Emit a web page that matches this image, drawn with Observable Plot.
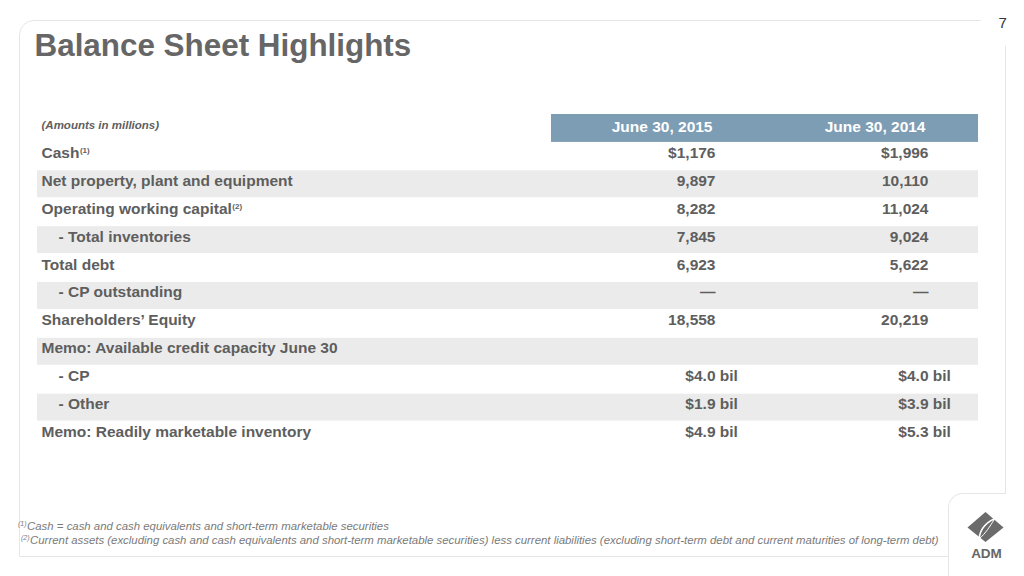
<!DOCTYPE html>
<html>
<head>
<meta charset="utf-8">
<script src="https://cdn.jsdelivr.net/npm/d3@7"></script>
<script src="https://cdn.jsdelivr.net/npm/@observablehq/plot@0.6"></script>
<style>
  html, body { margin: 0; padding: 0; background: #fff; }
  #page { position: relative; width: 1024px; height: 576px; overflow: hidden;
          font-family: "Liberation Sans", Arial, Helvetica, sans-serif; }
  .frame { position: absolute; left: 19px; top: 20px; width: 984.5px; height: 535px;
           border: 1.5px solid #e6e6e6; border-top-left-radius: 15px; }
  .cornerCover { position: absolute; left: 981px; top: 10px; width: 40px; height: 36px; background: #fff; }
  .notch { position: absolute; left: 948px; top: 493px; width: 57px; height: 100px; background: #fff;
           border-top: 1.5px solid #e6e6e6; border-left: 1.5px solid #e6e6e6; border-top-left-radius: 15px; }
  .title { position: absolute; left: 34.5px; top: 29.8px; font-size: 31.4px; line-height: 31px;
           font-weight: bold; color: #666; white-space: nowrap; }
  .pagenum { position: absolute; left: 998.5px; top: 14.6px; font-size: 15px; line-height: 15px; color: #333; }
  .fn { position: absolute; font-size: 11.4px; line-height: 14px; font-style: italic; color: #7a7a7a; white-space: nowrap; }
  .fn sup { font-size: 7px; vertical-align: 0; position: relative; top: -4px; margin-right: 0.5px; }
  #chart { position: absolute; left: 0; top: 0; }
  #logo { position: absolute; left: 960px; top: 505px; }
</style>
</head>
<body>
<div id="page">
  <div class="frame"></div>
  <div class="cornerCover"></div>
  <div class="notch"></div>
  <div class="pagenum" id="pagenum"></div>
  <div class="title" id="title"></div>
  <div class="fn" id="fn1" style="left:18px; top:519px;"></div>
  <div class="fn" id="fn2" style="left:21px; top:533px;"></div>
  <svg id="logo" width="50" height="60" viewBox="960 505 50 60">
    <polygon points="985.5,512 1003.5,527.5 985.5,542 967.5,527.5" fill="#6b6b6b"/>
    <path d="M979,539 C980,529 987,521 999,517" fill="none" stroke="#fff" stroke-width="1.6"/>
    <path d="M979,539 C986,533 990,526 994,520" fill="none" stroke="#fff" stroke-width="1"/>
    <text x="986.5" y="558" text-anchor="middle" font-family="Liberation Sans, Arial, sans-serif"
          font-weight="bold" font-size="13.5" fill="#666">ADM</text>
  </svg>
  <div id="chart"></div>
</div>
<script>
// ---------- data ----------
const pageNumber = "7";
const titleText = "Balance Sheet Highlights";
const headerNote = "(Amounts in millions)";
const columnHeaders = ["June 30, 2015", "June 30, 2014"];
const rowLabels = [
  "Cash",
  "Net property, plant and equipment",
  "Operating working capital",
  "- Total inventories",
  "Total debt",
  "- CP outstanding",
  "Shareholders’ Equity",
  "Memo: Available credit capacity June 30",
  "- CP",
  "- Other",
  "Memo: Readily marketable inventory"
];
const rowNotes = ["(1)", "", "(2)", "", "", "", "", "", "", "", ""];
const values2015 = [1176, 9897, 8282, 7845, 6923, null, 18558, null, 4.0, 1.9, 4.9];
const values2014 = [1996, 10110, 11024, 9024, 5622, null, 20219, null, 4.0, 3.9, 5.3];
const rowFormats = ["usd", "num", "num", "num", "num", "num", "num", "blank", "bil", "bil", "bil"];
const unitSuffix = "bil";
const footnoteMarks = ["(1)", "(2)"];
const footnotes = [
  "Cash = cash and cash equivalents and short-term marketable securities",
  "Current assets (excluding cash and cash equivalents and short-term marketable securities) less current liabilities (excluding short-term debt and current maturities of long-term debt)"
];

// ---------- html text ----------
document.getElementById("pagenum").textContent = pageNumber;
document.getElementById("title").textContent = titleText;
["fn1", "fn2"].forEach((id, i) => {
  const el = document.getElementById(id);
  const s = document.createElement("sup");
  s.textContent = footnoteMarks[i];
  el.appendChild(s);
  el.appendChild(document.createTextNode(footnotes[i]));
});

// ---------- table rows ----------
const rows = rowLabels.map((label, i) => ({
  row: i + 1,
  label,
  indent: label.startsWith("- "),
  values: [values2015[i], values2014[i]],
  format: rowFormats[i]
}));
const comma = d3.format(",");
function fmt(v, f) {
  if (f === "blank") return "";
  if (v == null) return "—";
  if (f === "usd") return "$" + comma(v);
  if (f === "bil") return "$" + v.toFixed(1);
  return comma(v);
}

// layout (pixels)
const LABEL_X = 41, INDENT_X = 58, BAND_X1 = 37, BAND_X2 = 978, HEAD_X1 = 551;
const COL_X = [715, 928];
const textColor = "#5e5e5e";
const fontSize = 15.5;

const marks = [
  // alternating grey bands
  Plot.barX(rows.filter(d => d.row % 2 === 0), {
    x1: BAND_X1, x2: BAND_X2, y: "row", fill: "#ebebeb", insetTop: 0.5, insetBottom: 0.5
  }),
  // header bar
  Plot.barX([0], { x1: HEAD_X1, x2: BAND_X2, y: d => d, fill: "#7d9db5" }),
  Plot.text([headerNote], {
    x: LABEL_X, y: () => 0, text: d => d, textAnchor: "start",
    fontStyle: "italic", fontWeight: "bold", fontSize: 11.5, fill: textColor, dy: -3
  }),
  Plot.text(columnHeaders, {
    x: (d, i) => COL_X[i] - 3, y: () => 0, text: d => d, textAnchor: "end",
    fontWeight: "bold", fontSize: fontSize, fill: "#ffffff", dy: -1.5
  }),
  // row labels
  Plot.text(rows, {
    x: d => d.indent ? INDENT_X : LABEL_X, y: "row", text: "label", textAnchor: "start",
    fontWeight: "bold", fontSize: fontSize, fill: textColor, dy: -3.5
  })
];
COL_X.forEach((cx, c) => {
  marks.push(Plot.text(rows, {
    x: cx, y: "row", text: d => fmt(d.values[c], d.format), textAnchor: "end",
    fontWeight: "bold", fontSize: fontSize, fill: textColor, dy: -3.5
  }));
  marks.push(Plot.text(rows.filter(d => d.format === "bil"), {
    x: cx, y: "row", text: () => unitSuffix, textAnchor: "start", dx: 4.3,
    fontWeight: "bold", fontSize: fontSize, fill: textColor, dy: -3.5
  }));
});

const svg = Plot.plot({
  width: 1024,
  height: 576,
  marginTop: 114,
  marginBottom: 127,
  marginLeft: 0,
  marginRight: 0,
  style: { background: "transparent", fontFamily: "Liberation Sans, Arial, Helvetica, sans-serif" },
  x: { type: "linear", domain: [0, 1024], axis: null },
  y: { type: "band", domain: d3.range(rowLabels.length + 1), padding: 0, round: false, axis: null },
  marks
});

// superscript notes on labels
const noteByLabel = new Map(rowLabels.map((l, i) => [l, rowNotes[i]]));
d3.select(svg).selectAll("text").each(function () {
  const n = noteByLabel.get(this.textContent);
  if (n) {
    d3.select(this).append("tspan").attr("font-size", 8).attr("dy", -5).attr("dx", 0.5).text(n);
  }
});

document.getElementById("chart").appendChild(svg);
</script>
</body>
</html>
